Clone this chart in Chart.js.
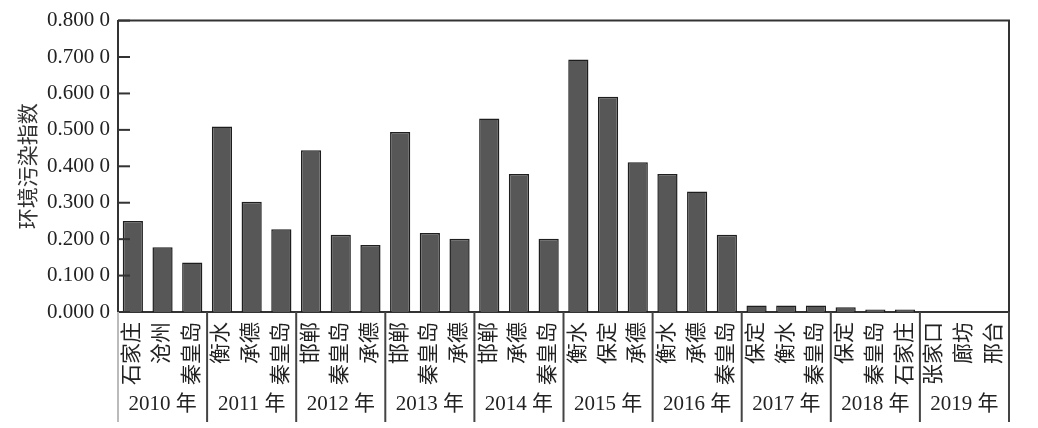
<!DOCTYPE html>
<html>
<head>
<meta charset="utf-8">
<script src="https://cdn.jsdelivr.net/npm/chart.js@4/dist/chart.umd.min.js"></script>
<style>
  body { margin: 0; background: #fff; }
</style>
</head>
<body>
<canvas id="pollutionChart" width="1038" height="428"></canvas>
<script>
// data
const years = ["2010 年", "2011 年", "2012 年", "2013 年", "2014 年", "2015 年", "2016 年", "2017 年", "2018 年", "2019 年"];
const cities = [
  "石家庄", "沧州", "秦皇岛",
  "衡水", "承德", "秦皇岛",
  "邯郸", "秦皇岛", "承德",
  "邯郸", "秦皇岛", "承德",
  "邯郸", "承德", "秦皇岛",
  "衡水", "保定", "承德",
  "衡水", "承德", "秦皇岛",
  "保定", "衡水", "秦皇岛",
  "保定", "秦皇岛", "石家庄",
  "张家口", "廊坊", "邢台"
];
const indexValues = [
  0.250, 0.178, 0.136,
  0.509, 0.303, 0.227,
  0.444, 0.212, 0.184,
  0.494, 0.217, 0.201,
  0.531, 0.379, 0.201,
  0.693, 0.591, 0.411,
  0.379, 0.331, 0.212,
  0.018, 0.018, 0.018,
  0.013, 0.007, 0.007,
  0, 0, 0
];
const yTicks = [0, 0.1, 0.2, 0.3, 0.4, 0.5, 0.6, 0.7, 0.8];

const groupSize = 3;
const font = '"Liberation Serif", "Noto Sans CJK SC", serif';
const textColor = "#222";

// box, inner ticks, year row and separators
const yearRowPlugin = {
  id: "yearRow",
  afterDraw(chart) {
    const ctx = chart.ctx;
    const area = chart.chartArea;
    const x = chart.scales.x;
    const y = chart.scales.y;
    ctx.save();

    // top and right edges of the frame
    ctx.strokeStyle = "#333";
    ctx.lineWidth = 2;
    ctx.beginPath();
    ctx.moveTo(area.left, area.top);
    ctx.lineTo(area.right, area.top);
    ctx.lineTo(area.right, area.bottom);
    ctx.stroke();

    // tick marks pointing into the plot
    ctx.lineWidth = 2;
    yTicks.forEach(v => {
      const py = y.getPixelForValue(v);
      ctx.beginPath();
      ctx.moveTo(area.left, py);
      ctx.lineTo(area.left + 12, py);
      ctx.stroke();
    });

    // separators between year groups
    const bottom = 422;
    for(let g = 0; g <= years.length; g++){
      let px;
      if(g === 0) px = area.left;
      else if(g === years.length) px = area.right;
      else px = (x.getPixelForValue(g * groupSize - 1) + x.getPixelForValue(g * groupSize)) / 2;
      ctx.strokeStyle = g === 0 ? "#bbb" : "#444";
      ctx.lineWidth = 2;
      ctx.beginPath();
      ctx.moveTo(px, area.bottom);
      ctx.lineTo(px, bottom);
      ctx.stroke();
    }

    // year labels
    ctx.fillStyle = textColor;
    ctx.font = "21px " + font;
    ctx.textAlign = "center";
    ctx.textBaseline = "middle";
    years.forEach((yr, g) => {
      const px = x.getPixelForValue(g * groupSize + 1);
      ctx.fillText(yr, px, 404);
    });

    ctx.restore();
  }
};

new Chart(document.getElementById("pollutionChart"), {
  type: "bar",
  data: {
    labels: cities,
    datasets: [{
      label: "环境污染指数",
      data: indexValues,
      backgroundColor: "#575757",
      borderColor: "#1e1e1e",
      borderWidth: 1.5,
      categoryPercentage: 1,
      barPercentage: 0.68
    }]
  },
  options: {
    responsive: false,
    animation: false,
    layout: {
      padding: { top: 16, right: 29, bottom: 0, left: 0 }
    },
    plugins: {
      legend: { display: false },
      tooltip: { enabled: false }
    },
    scales: {
      x: {
        grid: { display: false, drawTicks: false },
        border: { display: true, color: "#333", width: 2 },
        ticks: {
          autoSkip: false,
          minRotation: 90,
          maxRotation: 90,
          padding: 10,
          color: textColor,
          font: { family: font, size: 21 }
        },
        afterFit: scale => { scale.height = 116; }
      },
      y: {
        min: 0,
        max: 0.8,
        grid: { display: false, drawTicks: false },
        border: { display: true, color: "#333", width: 2 },
        ticks: {
          stepSize: 0.1,
          padding: 8,
          color: textColor,
          font: { family: font, size: 21 },
          callback: v => v.toFixed(3) + " 0"
        },
        title: {
          display: true,
          text: "环境污染指数",
          color: "#333",
          padding: { top: 17, bottom: 4 },
          font: { family: font, size: 21 }
        },
        afterFit: scale => { scale.width = 118; }
      }
    }
  },
  plugins: [yearRowPlugin]
});
</script>
</body>
</html>
